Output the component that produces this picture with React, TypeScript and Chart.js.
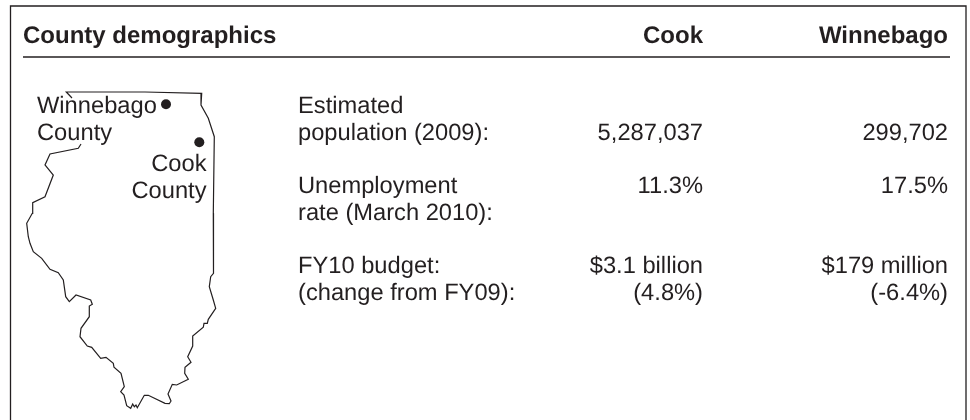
import React, { useEffect, useRef } from "react";
import { Chart, registerables } from "chart.js";

Chart.register(...registerables);

const title = "County demographics";
const columns = ["Cook", "Winnebago"];
const rowLabels = [
  ["Estimated", "population (2009):"],
  ["Unemployment", "rate (March 2010):"],
  ["FY10 budget:", "(change from FY09):"],
];
const cookValues = [["5,287,037"], ["11.3%"], ["$3.1 billion", "(4.8%)"]];
const winnebagoValues = [["299,702"], ["17.5%"], ["$179 million", "(-6.4%)"]];
const mapLabels = [
  { lines: ["Winnebago", "County"], align: "left" as const, x: 37, y: 113 },
  { lines: ["Cook", "County"], align: "right" as const, x: 206.5, y: 171 },
];
const cities = [
  { x: 166, y: 104.3 },
  { x: 199.3, y: 142.3 },
];
const outlineX = [72, 66.3, 145, 201.7, 201, 208.3, 214.3, 213.3, 213.7, 213.3, 210.7, 209.3, 213.3, 215.7, 208.3, 207.3, 204, 203.3, 192.7, 192.7, 187.7, 191, 185, 184.7, 188.3, 176.7, 172.3, 168, 171, 169.3, 165, 148.3, 144.3, 137.3, 136, 134.3, 132.7, 130.7, 126.7, 124, 120.7, 124.3, 121, 114, 113.3, 106, 100.7, 91.7, 87.3, 80, 81, 89.3, 89.3, 92.3, 90.7, 76, 69.3, 65.7, 63.3, 58.3, 50, 41.7, 33.3, 30, 28.3, 26.7, 32.3, 32.7, 45, 53.3, 45, 50, 78.3, 81];
const outlineY = [98, 92, 92, 93.3, 105, 118.3, 136.7, 213.3, 240, 273.3, 276.7, 286.7, 300, 308.3, 319.3, 323.3, 323.3, 327.3, 336, 346, 356.7, 362.3, 367.3, 373.3, 379.3, 385, 384.3, 394, 401, 403.7, 403.3, 395.3, 395.3, 407.7, 405, 406.7, 404, 408.3, 405.7, 395, 391.7, 386.7, 373.3, 367.3, 363.3, 357.3, 358.3, 347.3, 346, 336.7, 328.3, 316.7, 306, 304.3, 300, 295, 301.7, 296.7, 280, 272.7, 269.3, 258.3, 251.7, 243.3, 236.7, 223.3, 213.3, 202.7, 196.7, 175, 165, 154, 148.3, 144];
const outline = outlineX.map((x, i) => ({ x, y: outlineY[i] }));

const INK = "#231f20";
const FAMILY = '"Liberation Sans", Arial, sans-serif';

const tablePlugin = {
  id: "countyTable",
  afterDatasetsDraw(chart: any) {
    const { ctx, scales } = chart;
    const X = (v: number) => scales.x.getPixelForValue(v);
    const Y = (v: number) => scales.y.getPixelForValue(v);
    const text = (s: string, x: number, y: number, align: CanvasTextAlign) => {
      ctx.textAlign = align;
      ctx.fillText(s, X(x), Y(y));
    };
    ctx.save();
    ctx.strokeStyle = INK;
    ctx.fillStyle = INK;
    ctx.textBaseline = "alphabetic";
    ctx.textRendering = "geometricPrecision";

    ctx.lineWidth = 1.3;
    ctx.beginPath();
    ctx.moveTo(X(10.5), Y(420));
    ctx.lineTo(X(10.5), Y(6));
    ctx.lineTo(X(966), Y(6));
    ctx.lineTo(X(966), Y(420));
    ctx.stroke();
    ctx.beginPath();
    ctx.moveTo(X(23), Y(57));
    ctx.lineTo(X(950), Y(57));
    ctx.stroke();

    ctx.font = `bold 24px ${FAMILY}`;
    text(title, 23, 43, "left");
    text(columns[0], 703, 43, "right");
    text(columns[1], 948, 43, "right");

    ctx.font = `23.7px ${FAMILY}`;
    mapLabels.forEach((l) =>
      l.lines.forEach((s, i) => text(s, l.x, l.y + i * 26.5, l.align))
    );
    const rowY = [113, 193, 273];
    rowLabels.forEach((lines, r) =>
      lines.forEach((s, i) => text(s, 298, rowY[r] + i * 27, "left"))
    );
    const valueY = [140, 193, 273];
    cookValues.forEach((lines, r) =>
      lines.forEach((s, i) => text(s, 703, valueY[r] + i * 27, "right"))
    );
    winnebagoValues.forEach((lines, r) =>
      lines.forEach((s, i) => text(s, 948, valueY[r] + i * 27, "right"))
    );
    ctx.restore();
  },
};

export default function App() {
  const ref = useRef<HTMLCanvasElement>(null);
  useEffect(() => {
    const chart = new Chart(ref.current!, {
      type: "scatter",
      data: {
        datasets: [
          {
            label: "Illinois outline",
            data: outline,
            showLine: true,
            tension: 0,
            borderColor: INK,
            borderWidth: 1.2,
            pointRadius: 0,
            clip: false,
          },
          {
            label: "Counties",
            data: cities,
            showLine: false,
            pointRadius: 5,
            pointBackgroundColor: INK,
            pointBorderWidth: 0,
          },
        ],
      },
      options: {
        animation: false,
        responsive: false,
        layout: { padding: 0, autoPadding: false },
        plugins: { legend: { display: false }, tooltip: { enabled: false } },
        scales: {
          x: { type: "linear", min: 0, max: 970, display: false },
          y: { type: "linear", min: 0, max: 420, reverse: true, display: false },
        },
      },
      plugins: [tablePlugin],
    });
    return () => chart.destroy();
  }, []);
  return (
    <div style={{ position: "absolute", left: 0, top: 0, width: 970, height: 420, background: "#fff" }}>
      <canvas ref={ref} width={970} height={420} style={{ display: "block" }} />
    </div>
  );
}
